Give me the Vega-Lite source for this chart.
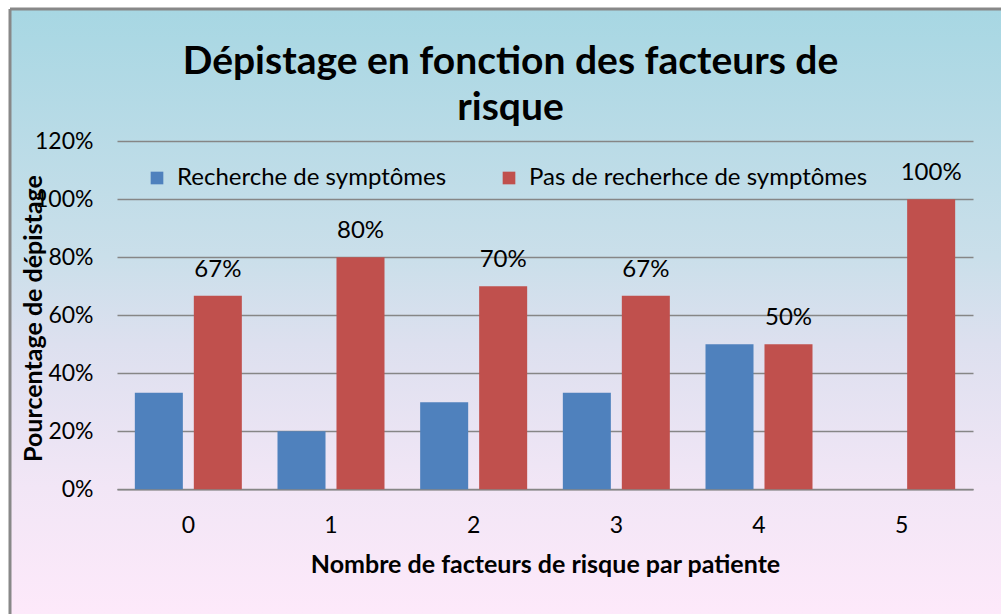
{
  "$schema": "https://vega.github.io/schema/vega-lite/v6.json",
  "width": 991,
  "height": 605,
  "autosize": {"type": "none"},
  "padding": {"left": 10, "top": 9, "right": 0, "bottom": 0},
  "background": "#ffffff",
  "config": {
    "font": "Lato",
    "view": {
      "fill": {"gradient": "linear", "x1": 0, "y1": 0, "x2": 0, "y2": 1, "stops": [
        {"offset": 0, "color": "#a7d7e3"},
        {"offset": 0.41, "color": "#cadfea"},
        {"offset": 0.555, "color": "#dde0ef"},
        {"offset": 0.79, "color": "#f2e6f6"},
        {"offset": 1, "color": "#fde9fa"}
      ]},
      "stroke": "#888888",
      "strokeWidth": 3,
      "strokeDash": [991, 1596, 605, 0]
    }
  },
  "title": {
    "text": ["Dépistage en fonction des facteurs de", "risque"],
    "font": "Lato",
    "fontSize": 39,
    "fontWeight": "bold",
    "color": "#000000",
    "anchor": "middle",
    "frame": "group",
    "offset": -119,
    "dx": 5,
    "lineHeight": 46
  },
  "data": {"values": [
    {"facteurs": "0", "serie": "Recherche de symptômes", "pct": 0.333},
    {"facteurs": "0", "serie": "Pas de recherhce de symptômes", "pct": 0.667},
    {"facteurs": "1", "serie": "Recherche de symptômes", "pct": 0.2},
    {"facteurs": "1", "serie": "Pas de recherhce de symptômes", "pct": 0.8},
    {"facteurs": "2", "serie": "Recherche de symptômes", "pct": 0.3},
    {"facteurs": "2", "serie": "Pas de recherhce de symptômes", "pct": 0.7},
    {"facteurs": "3", "serie": "Recherche de symptômes", "pct": 0.333},
    {"facteurs": "3", "serie": "Pas de recherhce de symptômes", "pct": 0.667},
    {"facteurs": "4", "serie": "Recherche de symptômes", "pct": 0.5},
    {"facteurs": "4", "serie": "Pas de recherhce de symptômes", "pct": 0.5},
    {"facteurs": "5", "serie": "Recherche de symptômes", "pct": 0},
    {"facteurs": "5", "serie": "Pas de recherhce de symptômes", "pct": 1.0}
  ]},
  "encoding": {
    "x": {
      "field": "facteurs",
      "type": "nominal",
      "scale": {"range": [107, 963], "paddingInner": 0.25, "paddingOuter": 0.125},
      "axis": {
        "offset": -124.7,
        "title": "Nombre de facteurs de risque par patiente",
        "labelAngle": 0,
        "labelFontSize": 23,
        "labelColor": "#000000",
        "labelPadding": 25,
        "ticks": false,
        "domainColor": "#868686",
        "domainWidth": 1.5,
        "titleFontSize": 25,
        "titleFontWeight": "bold",
        "titleColor": "#000000",
        "titlePadding": 15,
        "grid": false
      }
    },
    "xOffset": {
      "field": "serie",
      "type": "nominal",
      "sort": ["Recherche de symptômes", "Pas de recherhce de symptômes"],
      "scale": {"paddingInner": 0.186, "paddingOuter": 0}
    },
    "y": {
      "field": "pct",
      "type": "quantitative",
      "scale": {"domain": [0, 1.2], "range": [480.3, 132.3], "nice": false, "zero": true},
      "axis": {
        "offset": -107,
        "values": [0, 0.2, 0.4, 0.6, 0.8, 1, 1.2],
        "format": ".0%",
        "domain": false,
        "ticks": false,
        "labelPadding": 24,
        "labelFontSize": 23,
        "labelColor": "#000000",
        "grid": true,
        "gridColor": "#868686",
        "gridWidth": 1.5,
        "title": "Pourcentage de dépistage",
        "titleFontSize": 25,
        "titleFontWeight": "bold",
        "titleColor": "#000000",
        "titleX": -84,
        "titleY": 309,
        "titleBaseline": "middle"
      }
    }
  },
  "layer": [
    {
      "mark": {"type": "bar"},
      "encoding": {
        "color": {
          "field": "serie",
          "type": "nominal",
          "scale": {"domain": ["Recherche de symptômes", "Pas de recherhce de symptômes"], "range": ["#4f81bd", "#c0504d"]},
          "legend": {
            "orient": "none",
            "legendX": 135,
            "legendY": 157,
            "direction": "horizontal",
            "title": null,
            "symbolType": "square",
            "symbolSize": 160,
            "symbolOpacity": 1,
            "symbolStrokeWidth": 0,
            "labelFontSize": 24,
            "labelColor": "#000000",
            "labelLimit": 0,
            "labelOffset": 8,
            "columnPadding": 50
          }
        }
      }
    },
    {
      "transform": [{"filter": "datum.serie === 'Pas de recherhce de symptômes'"}],
      "mark": {"type": "text", "baseline": "alphabetic", "dy": -19, "fontSize": 24, "color": "#000000", "font": "Lato"},
      "encoding": {
        "text": {"field": "pct", "type": "quantitative", "format": ".0%"}
      }
    }
  ]
}
